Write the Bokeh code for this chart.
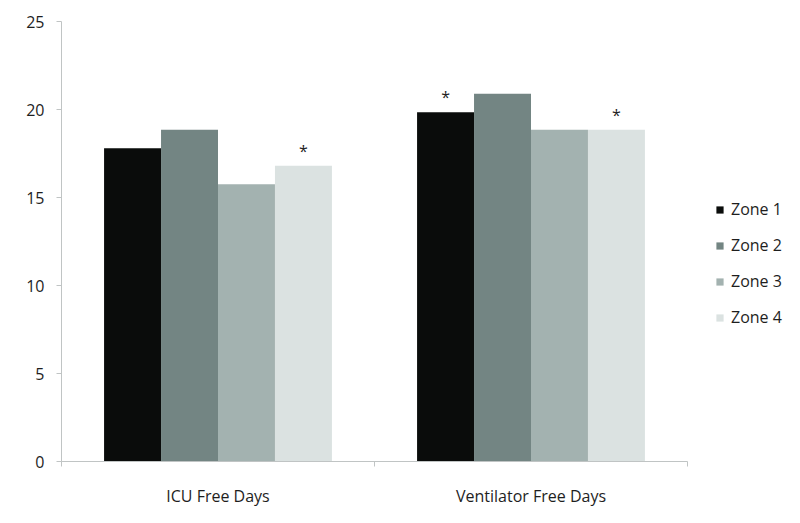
from bokeh.plotting import figure
from bokeh.models import ColumnDataSource, FixedTicker, Legend, LegendItem, Range1d
from bokeh.core.properties import value
from bokeh.embed import file_html
from bokeh.resources import INLINE

categories = ["ICU Free Days", "Ventilator Free Days"]
zones = ["Zone 1", "Zone 2", "Zone 3", "Zone 4"]
icu_values = [17.8, 18.85, 15.75, 16.8]
vent_values = [19.85, 20.9, 18.85, 18.85]
colors = ["#0a0c0b", "#738583", "#a3b2b0", "#dbe2e1"]
# significance markers: (category index, zone index)
significant = [(0, 3), (1, 0), (1, 3)]
y_ticks = [0, 5, 10, 15, 20, 25]

FONT = "Open Sans"
TEXT = "#1e1e1e"
AXIS = "#c0c4c4"

W, H = 792, 515
LEFT, AXIS_RIGHT = 61, 687
n = len(categories)
# extend the frame to the right so the legend can sit inside it
x_end = n * (W - LEFT) / (AXIS_RIGHT - LEFT)

p = figure(width=W, height=H, output_backend="svg", toolbar_location=None,
           x_range=Range1d(0, x_end), y_range=Range1d(0, 25),
           min_border_left=LEFT, min_border_right=0, min_border_top=21,
           min_border_bottom=54)
p.outline_line_color = None
p.grid.grid_line_color = None
p.background_fill_color = "white"

bar_w = 0.182
series = [icu_values, vent_values]
items = []
for j, z in enumerate(zones):
    xs = [i + 0.5 + (j - 1.5) * bar_w for i in range(n)]
    tops = [series[i][j] for i in range(n)]
    src = ColumnDataSource(dict(x=xs, top=tops))
    r = p.vbar(x="x", top="top", width=bar_w, bottom=0, source=src,
               fill_color=colors[j], line_color=None)
    items.append(LegendItem(label=z, renderers=[r]))

sx = [c + 0.5 + (z - 1.5) * bar_w for c, z in significant]
sy = [series[c][z] for c, z in significant]
p.text(x=sx, y=sy, text=["*"] * len(sx), text_align="center",
       text_baseline="bottom", y_offset=-4, text_font=value(FONT),
       text_font_size="16px", text_color=TEXT)

legend = Legend(items=items, location=(654, 133), border_line_color=None,
                background_fill_alpha=0, padding=0, margin=0,
                glyph_width=9, glyph_height=9, label_height=20, spacing=14,
                label_standoff=7, label_text_font=FONT,
                label_text_font_size="16px", label_text_color=TEXT)
p.add_layout(legend, "center")

xa = p.xaxis[0]
xa.bounds = (0, n)
xa.ticker = FixedTicker(ticks=[i + 0.5 for i in range(n)],
                        minor_ticks=list(range(n + 1)))
xa.major_label_overrides = {i + 0.5: c for i, c in enumerate(categories)}
xa.major_tick_line_color = None
xa.minor_tick_line_color = AXIS
xa.minor_tick_out = 5
xa.minor_tick_in = 0
xa.axis_line_color = AXIS
xa.major_label_standoff = 17
xa.major_label_text_font = FONT
xa.major_label_text_font_size = "16px"
xa.major_label_text_color = TEXT

ya = p.yaxis[0]
ya.ticker = FixedTicker(ticks=y_ticks, minor_ticks=[])
ya.axis_line_color = AXIS
ya.major_tick_line_color = AXIS
ya.major_tick_out = 5
ya.major_tick_in = 0
ya.minor_tick_line_color = None
ya.major_label_standoff = 12
ya.major_label_text_font = FONT
ya.major_label_text_font_size = "16px"
ya.major_label_text_color = TEXT

open("out.html", "w").write(file_html(p, INLINE))
